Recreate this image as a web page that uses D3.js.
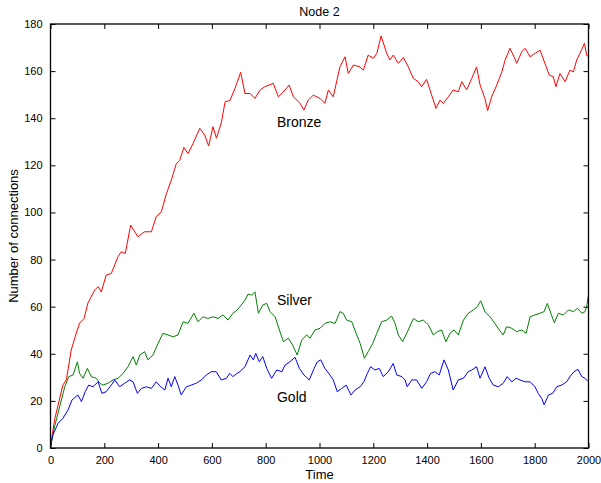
<!DOCTYPE html>
<html><head><meta charset="utf-8">
<script src="https://cdn.jsdelivr.net/npm/d3@7"></script>
<style>body{margin:0;background:#fff}svg{display:block}text{font-family:Arial,"Liberation Sans",Helvetica,sans-serif;fill:#000}</style>
</head><body>
<svg id="c" width="601" height="483"></svg>
<script>
const title = "Node 2";
const xLabel = "Time";
const yLabel = "Number of connections";
const xTicks = [0,200,400,600,800,1000,1200,1400,1600,1800,2000];
const yTicks = [0,20,40,60,80,100,120,140,160,180];
const seriesNames = ["Bronze","Silver","Gold"];
const seriesColors = ["#ff0000","#008000","#0000ff"];

const bronzeT = [0,15,46,59,77,96,108,125,139,164,177,189,207,226,251,263,278,298,325,350,375,393,412,431,449,468,480,496,511,530,555,573,588,604,617,635,649,667,686,707,723,742,760,779,797,828,847,866,887,903,928,942,958,977,1002,1020,1033,1051,1076,1095,1107,1126,1150,1163,1181,1200,1213,1229,1250,1262,1274,1293,1312,1330,1349,1367,1380,1398,1417,1433,1448,1460,1479,1497,1516,1529,1547,1566,1584,1597,1615,1625,1640,1659,1678,1690,1708,1726,1733,1752,1764,1783,1801,1820,1838,1854,1869,1879,1894,1913,1931,1944,1956,1968,1985,1993,2000];
const bronzeV = [0.5,11.9,26.7,28.9,41.6,48.8,53,55,61.5,67,68.5,66.3,73.4,74.1,81.2,83.3,82.6,94.6,89.7,91.8,91.8,98.2,100.3,108,113.7,120.8,122,127.6,125,129.3,135.7,132.9,128.2,136.4,131.5,138,147,147.5,152.7,159.5,150.5,150.5,148.4,152,153.4,154.8,149.1,151.2,154.1,149.1,146.3,143.5,147.7,149.8,148.4,146.3,152,149.1,161.8,166.1,159,162.6,161.8,160.4,166.8,165.4,167.5,174.9,167.5,164.7,166.8,163.3,165.8,161.8,156.9,155.5,153.4,156.5,149.8,144.2,147.7,146.3,149.1,152,151.2,155.5,152,156.9,161.8,154.1,148.4,143.2,149.1,154.1,159.7,164.7,169.7,165.4,163.3,168.2,169.7,166.1,167.5,168.9,163.3,158.3,157.6,153.4,159,155.5,160.4,159.7,164.7,167.5,171.8,166.8,166.1];

const silverT = [0,15,34,53,68,84,100,108,121,137,152,170,183,195,214,232,251,270,288,307,319,332,350,362,381,400,418,437,455,474,493,511,533,548,567,585,604,623,641,660,678,694,704,723,735,748,760,773,789,804,816,835,851,866,884,900,917,934,952,965,983,1002,1020,1039,1058,1076,1088,1101,1120,1136,1151,1167,1181,1198,1213,1231,1250,1268,1281,1293,1309,1330,1349,1367,1386,1405,1423,1438,1454,1470,1485,1500,1516,1535,1553,1572,1587,1599,1615,1634,1652,1668,1683,1696,1715,1733,1752,1768,1783,1801,1820,1835,1847,1860,1873,1888,1907,1925,1944,1959,1975,1987,1993,2000];
const silverV = [0.5,9,17.5,26,30.3,31,36.6,31.7,29.6,33.8,30.3,29.6,27.5,26.7,27.5,28.9,29.6,31.7,34.5,38.8,35.2,39.5,40.9,37.4,39.5,44.4,48.7,48,47.2,48,53.6,52.9,57.2,53.6,55.7,55,55.7,55,56.5,54.3,57.2,58.6,60,62.8,65.4,64.9,66.3,57.2,60.7,61.4,57.9,55.7,50.1,45.1,46.6,43.7,39.5,45.8,48,46.6,50.1,50.8,52.9,53.6,52.9,57.9,57.2,54.3,53.6,48.7,44.4,38.1,40.9,44.4,48.7,53.6,54.3,56,52.9,48,45.1,50.1,55,53.6,54.3,52.2,48,49.4,50.1,45.1,48.7,50.1,48,54.3,57.2,58.6,60,62.5,57.9,55.7,52.9,50.1,48,51.5,50.8,49.4,50.1,48.7,55.7,56.5,57.2,57.9,61.4,57.2,53.2,57.2,56.5,58.6,57.9,59.3,57.2,57.9,60,65];

const goldT = [0,9,28,46,65,80,102,115,129,142,158,177,191,207,226,239,257,276,294,307,323,338,356,375,393,410,425,437,449,462,474,486,505,523,542,561,579,598,616,635,654,666,678,694,704,723,742,754,763,776,789,804,822,841,860,872,890,909,925,942,962,980,992,1005,1020,1039,1051,1066,1083,1099,1117,1132,1151,1165,1178,1190,1206,1222,1237,1256,1274,1287,1306,1318,1326,1343,1361,1380,1398,1413,1429,1445,1463,1479,1497,1516,1535,1553,1566,1584,1597,1615,1631,1646,1665,1683,1698,1715,1731,1745,1764,1783,1801,1813,1826,1835,1851,1867,1882,1900,1919,1931,1946,1961,1975,1987,2000];
const goldV = [1,5.5,10.5,12.6,16.1,20.4,22.5,19.7,23.9,26.7,26,28.1,23.2,23.9,26.7,28.9,26,27.5,28.9,28.1,23.2,25.3,26,25.3,28.1,26,24.6,29.6,26,30.3,26.7,22.5,26,26.7,27.5,28.9,31,32.4,32.4,28.9,29.6,31.7,30.3,31.7,32.4,34.5,39.5,37.4,40.2,36.6,38.8,33.8,29.6,33.1,32.4,35.2,36.6,38.5,33.8,31,28.9,33.8,36.6,37.4,33.8,31,28.9,23.9,25.3,26.7,22.5,24.6,26,28.1,31.7,34.5,33.1,33.8,30.3,32.4,35.9,31,30.3,28.9,26,28.9,28.9,25.3,28.1,31.7,32.4,31,37.4,33.1,24.6,28.9,29.6,32.4,33.1,34.5,29.6,34.5,29.6,26.7,26,27.5,30.3,28.1,29.6,28.9,28.1,28.1,26,23.2,21.1,18.3,22.5,23.2,26,26.7,28.1,30.3,32.4,33.4,30.3,29.6,28.1];

// label anchors in data coordinates (time, value)
const labelT = [842,842,842];
const labelV = [136.2,60.7,19.5];

const svg = d3.select("#c");
const m = {l:50.5, r:588.5, t:24, b:448};
const x = d3.scaleLinear().domain([0,2000]).range([m.l,m.r]);
const y = d3.scaleLinear().domain([0,180]).range([m.b,m.t]);

const series = [
  {t:bronzeT, v:bronzeV},
  {t:silverT, v:silverV},
  {t:goldT, v:goldV}
];
const line = d3.line().x(d=>x(d[0])).y(d=>y(d[1]));
const plot = svg.append("g");
plot.append("clipPath").attr("id","clip").append("rect")
  .attr("x",m.l).attr("y",m.t).attr("width",m.r-m.l).attr("height",m.b-m.t);
const g = plot.append("g").attr("clip-path","url(#clip)");
series.forEach((s,i)=>{
  const pts = s.t.map((t,j)=>[t,s.v[j]]);
  g.append("path").attr("d",line(pts)).attr("fill","none")
   .attr("stroke",seriesColors[i]).attr("stroke-width",1).attr("stroke-linejoin","round");
});

// axes
const fs = 11;
const axB = d3.axisBottom(x).tickValues(xTicks).tickSizeInner(-5).tickSizeOuter(0).tickPadding(8).tickFormat(d3.format("d"));
const axT = d3.axisTop(x).tickValues(xTicks).tickSizeInner(-5).tickSizeOuter(0).tickFormat("");
const axL = d3.axisLeft(y).tickValues(yTicks).tickSizeInner(-5).tickSizeOuter(0).tickPadding(8).tickFormat(d3.format("d"));
const axR = d3.axisRight(y).tickValues(yTicks).tickSizeInner(-5).tickSizeOuter(0).tickFormat("");
function style(sel){
  sel.selectAll("path.domain").remove();
  sel.selectAll("line").attr("stroke","#000");
  sel.selectAll("text").attr("font-size",fs).attr("font-family","Arial, 'Liberation Sans', sans-serif").attr("fill","#000");
}
svg.append("g").attr("transform",`translate(0,${m.b})`).call(axB).call(style);
svg.append("g").attr("transform",`translate(0,${m.t})`).call(axT).call(style);
svg.append("g").attr("transform",`translate(${m.l},0)`).call(axL).call(style);
svg.append("g").attr("transform",`translate(${m.r},0)`).call(axR).call(style);
svg.append("rect").attr("x",m.l).attr("y",m.t).attr("width",m.r-m.l).attr("height",m.b-m.t)
  .attr("fill","none").attr("stroke","#000").attr("stroke-width",1.3);

svg.append("text").attr("x",(m.l+m.r)/2).attr("y",16).attr("text-anchor","middle").attr("font-size",12.5).text(title);
svg.append("text").attr("x",(m.l+m.r)/2).attr("y",479).attr("text-anchor","middle").attr("font-size",13).text(xLabel);
svg.append("text").attr("transform",`translate(18,${(m.t+m.b)/2}) rotate(-90)`).attr("text-anchor","middle").attr("font-size",13).text(yLabel);

seriesNames.forEach((n,i)=>{
  svg.append("text").attr("x",x(labelT[i])).attr("y",y(labelV[i])).attr("font-size",14).text(n);
});
</script>
</body></html>
